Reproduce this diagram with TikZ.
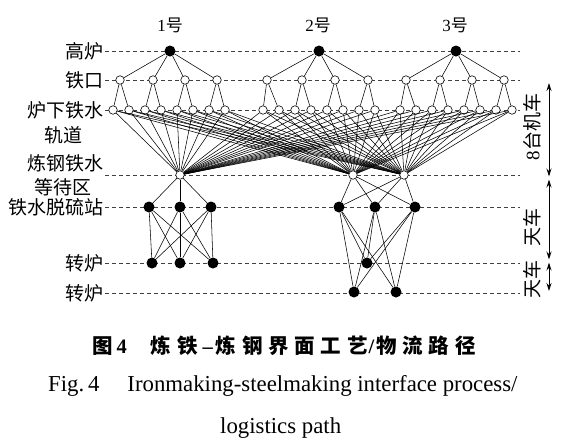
\documentclass[tikz,border=0pt]{standalone}
\usepackage{fontspec}
\setmainfont{Liberation Serif}
\newfontfamily\cjk{Noto Sans CJK SC}
\newfontfamily\cjkcap[LetterSpace=28]{Noto Sans CJK SC}
\usetikzlibrary{arrows.meta}
\begin{document}
\begin{tikzpicture}[x=1pt,y=-1pt,
  hol/.style={circle,draw,fill=white,inner sep=0pt,minimum size=8.5pt,line width=0.6pt},
  sol/.style={circle,fill=black,inner sep=0pt,minimum size=11pt},
  lvl/.style={dash pattern=on 4pt off 3pt,line width=0.6pt,draw=black!75},
  edge/.style={line width=0.55pt},
  lab/.style={font=\cjk\fontsize{19}{19}\selectfont,inner sep=0pt},
  num/.style={font=\cjk\fontsize{17}{17}\selectfont,inner sep=0pt},
  dbl/.style={{Stealth[length=8pt,width=5pt]}-{Stealth[length=8pt,width=5pt]},line width=0.8pt}]
\useasboundingbox (0,0) rectangle (571,445);
% level guide lines
\foreach \y in {51,80,110,175,207,263,293}
  \draw[lvl] (105,\y) -- (520,\y);
% row labels
\node[lab,anchor=east] (l1) at (104,51) {高炉};
\node[lab,anchor=east] (l2) at (104,80) {铁口};
\node[lab,anchor=east] (l3) at (104,110) {炉下铁水};
\node[lab] (l3b) at (63,135) {轨道};
\node[lab,anchor=east] (l4) at (104,163) {炼钢铁水};
\node[lab] (l4b) at (63,187) {等待区};
\node[lab,anchor=east] (l5) at (104,207) {铁水脱硫站};
\node[lab,anchor=east] (l6) at (104,263) {转炉};
\node[lab,anchor=east] (l7) at (104,293) {转炉};
% column headers
\node[num] (h1) at (170,25) {{\rmfamily 1}号};
\node[num] (h2) at (318,25) {{\rmfamily 2}号};
\node[num] (h3) at (455,25) {{\rmfamily 3}号};
% blast furnaces
\foreach \x [count=\i] in {170,319,456} \node[sol] (f\i) at (\x,51) {};
% tapholes
\foreach \x [count=\i] in {120,153,185,217,267,302,335,368,406,440,472,504}
  \node[hol] (t\i) at (\x,80) {};
% tracks
\foreach \x [count=\i] in {113,129,145,161,177,193,209,225,263,279,295,311,327,343,359,375,400,416,432,448,464,480,496,512}
  \node[hol] (r\i) at (\x,110) {};
% waiting
\foreach \x [count=\i] in {180,353,404} \node[hol] (w\i) at (\x,175) {};
% desulfurization
\foreach \x [count=\i] in {149,180,211,339,375,415} \node[sol] (d\i) at (\x,207) {};
% converters
\node[sol] (c1) at (152,263) {};
\node[sol] (c2) at (180,263) {};
\node[sol] (c3) at (213,263) {};
\node[sol] (c4) at (367,263) {};
\node[sol] (c5) at (354,292) {};
\node[sol] (c6) at (396,292) {};
% edges
\foreach \i in {1,...,12} {
  \pgfmathtruncatemacro\ff{int((\i-1)/4)+1}
  \draw[edge] (f\ff) -- (t\i);
}
\foreach \i in {1,...,24} {
  \pgfmathtruncatemacro\tt{int((\i-1)/2)+1}
  \draw[edge] (t\tt) -- (r\i);
  \foreach \w in {1,2,3} \draw[edge] (r\i) -- (w\w);
}
\foreach \d in {1,2,3} {
  \draw[edge] (w1) -- (d\d);
  \foreach \c in {1,2,3} \draw[edge] (d\d) -- (c\c);
}
\foreach \d in {4,5,6} {
  \draw[edge] (w2) -- (d\d);
  \draw[edge] (w3) -- (d\d);
  \foreach \c in {4,5,6} \draw[edge] (d\d) -- (c\c);
}
% right-hand scale
\coordinate (a0) at (549,83);
\coordinate (a1) at (549,176.5);
\coordinate (a1b) at (549,179.5);
\coordinate (a2) at (549,259.5);
\coordinate (a2b) at (549,262.5);
\coordinate (a3) at (549,291);
\draw[dbl] (a0) -- (a1);
\draw[dbl] (a1b) -- (a2);
\draw[dbl] (a2b) -- (a3);
\node[lab,rotate=90] (s1) at (532,127) {{\rmfamily 8}台机车};
\node[lab,rotate=90] (s2) at (532,227) {天车};
\node[lab,rotate=90] (s3) at (532,279) {天车};
% caption
\node[inner sep=0pt,anchor=west,font=\cjkcap\bfseries\fontsize{20.5}{20.5}\selectfont] (cap1) at (92,346)
  {图\hspace{4pt}{\rmfamily\bfseries 4}\hspace{24pt}炼铁\hspace{5pt}{\rmfamily\bfseries –}\hspace{3pt}炼钢界面工艺\hspace{1pt}{\rmfamily\bfseries /}\hspace{2pt}物流路径};
\node[inner sep=0pt,anchor=west,font=\fontsize{22.8}{22.8}\selectfont] (cap2) at (48,386)
  {Fig.\,4\hspace{28pt}Ironmaking-steelmaking interface process/};
\node[inner sep=0pt,anchor=west,font=\fontsize{22.8}{22.8}\selectfont] (cap3) at (220,428)
  {logistics path};
\end{tikzpicture}
\end{document}
